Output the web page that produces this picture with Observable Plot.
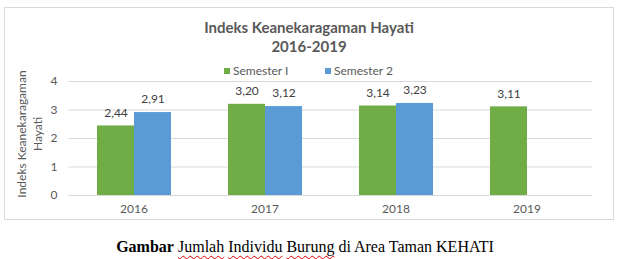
<!DOCTYPE html>
<html>
<head>
<meta charset="utf-8">
<script src="https://cdn.jsdelivr.net/npm/d3@7"></script>
<script src="https://cdn.jsdelivr.net/npm/@observablehq/plot@0.6"></script>
<style>
  html, body { margin: 0; padding: 0; background: #fff; }
  #wrap { position: relative; width: 622px; height: 259px; font-family: Lato, "Open Sans", sans-serif; color: #595959; }
  #frame { position: absolute; left: 4px; top: 7px; width: 610px; height: 213px; border: 1px solid #d9d9d9; box-sizing: border-box; }
  #title { position: absolute; left: 4px; width: 610px; top: 18px; text-align: center; font-weight: bold; font-size: 15px; line-height: 19px; color: #595959; }
  .leg { position: absolute; top: 64px; font-size: 12px; line-height: 14px; color: #595959; white-space: nowrap; }
  .leg i { display: inline-block; width: 6px; height: 6px; margin-right: 3px; vertical-align: 1px; }
  #ylab { position: absolute; left: -70px; top: 118px; width: 200px; text-align: center; font-size: 12px; line-height: 16px; transform: rotate(-90deg); color: #595959; }
  #chart { position: absolute; left: 0; top: 0; }
  #caption { position: absolute; left: 0; width: 610px; top: 237px; text-align: center; font-family: "Liberation Serif", "Times New Roman", serif; font-size: 16px; line-height: 20px; color: #000; }
  #caption .sp { text-decoration: underline wavy #e00000; text-decoration-thickness: 1px; text-underline-offset: 3px; }
</style>
</head>
<body>
<div id="wrap">
  <div id="frame"></div>
  <div id="title"></div>
  <div id="legend"></div>
  <div id="ylab"></div>
  <div id="chart"></div>
  <div id="caption"><b>Gambar</b> <span class="sp">Jumlah</span> <span class="sp">Individu</span> <span class="sp">Burung</span> di Area Taman KEHATI</div>
</div>
<script>
const titleLines = ["Indeks Keanekaragaman Hayati", "2016-2019"];
const yLabelLines = ["Indeks Keanekaragaman", "Hayati"];
const years = ["2016", "2017", "2018", "2019"];
const seriesNames = ["Semester I", "Semester 2"];
const seriesColors = ["#70AD47", "#5B9BD5"];
const semester1 = [2.44, 3.20, 3.14, 3.11];
const semester2 = [2.91, 3.12, 3.23, null];
const yTicks = [0, 1, 2, 3, 4];

document.getElementById("title").innerHTML = titleLines.join("<br>");
document.getElementById("ylab").innerHTML = yLabelLines.join("<br>");
const legendLefts = [224, 325];
document.getElementById("legend").innerHTML = seriesNames.map((s, i) =>
  `<div class="leg" style="left:${legendLefts[i]}px"><i style="background:${seriesColors[i]}"></i>${s}</div>`).join("");

const data = [];
years.forEach((y, i) => {
  if (semester1[i] != null) data.push({year: y, series: seriesNames[0], value: semester1[i]});
  if (semester2[i] != null) data.push({year: y, series: seriesNames[1], value: semester2[i]});
});
const fmt = v => d3.format(".2f")(v).replace(".", ",");

const chart = Plot.plot({
  width: 622,
  height: 230,
  marginLeft: 66,
  marginRight: 29,
  marginTop: 81,
  marginBottom: 35,
  style: {fontFamily: "Lato, 'Open Sans', sans-serif", fontSize: "12px", color: "#595959", background: "transparent"},
  fx: {domain: years, paddingInner: 0, paddingOuter: 0, label: null, axis: null},
  x: {domain: seriesNames, paddingInner: 0, paddingOuter: 0.757, axis: null},
  y: {domain: [0, 4], axis: null},
  color: {domain: seriesNames, range: seriesColors},
  marks: [
    Plot.ruleY(yTicks, {stroke: "#d9d9d9", strokeWidth: 1}),
    Plot.barY(data, {fx: "year", x: "series", y: "value", fill: "series"}),
    Plot.text(data, {fx: "year", x: "series", y: "value", text: d => fmt(d.value), dy: -13, fill: "#404040", fontSize: 12}),
    Plot.axisFx({anchor: "bottom", tickSize: 0, tickPadding: 9, label: null, fill: "#595959", fontSize: 12}),
    Plot.axisY(yTicks, {tickSize: 0, tickPadding: 11, label: null, fill: "#595959", fontSize: 12})
  ]
});
document.getElementById("chart").appendChild(chart);
</script>
</body>
</html>
